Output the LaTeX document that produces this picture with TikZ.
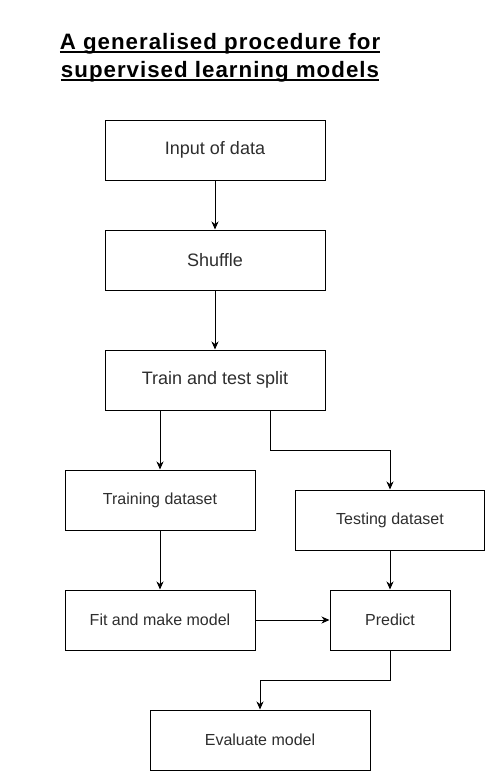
\documentclass[tikz,border=0pt]{standalone}
\usepackage{fontspec}
\setmainfont{Liberation Sans}
\newfontfamily\titlefont{Liberation Sans}[LetterSpace=4.5]
\usetikzlibrary{arrows.meta}
\newcommand\myul[1]{\setbox0\hbox{#1}\rlap{\rule[-4pt]{\wd0}{2pt}}\box0}
\begin{document}
\begin{tikzpicture}[x=1pt,y=-1pt,
  box/.style={draw=black,line width=1pt,rectangle,minimum height=60pt,inner sep=0pt,text=black!82},
  bigtxt/.style={font=\fontsize{18}{22}\selectfont},
  smalltxt/.style={font=\fontsize{16}{19}\selectfont},
  title/.style={font=\titlefont\bfseries\fontsize{22.3}{24}\selectfont,inner sep=0pt,anchor=base,text=black},
  arr/.style={draw=black,line width=1pt,-{Stealth[length=8pt,width=7pt,inset=2.5pt]}}]
\useasboundingbox (0,0) rectangle (486,771);
\fill[white] (0,0) rectangle (486,771);
\node[title] (t1) at (220,49) {\myul{A generalised procedure for}};
\node[title] (t2) at (220,77) {\myul{supervised learning models}};
\node[box,bigtxt,minimum width=220pt] (in) at (215,150) {Input of data};
\node[box,bigtxt,minimum width=220pt] (sh) at (215,260) {Shuffle};
\node[box,bigtxt,minimum width=220pt] (sp) at (215,380) {Train and test split};
\node[box,smalltxt,minimum width=190pt] (tr) at (160,500) {Training dataset};
\node[box,smalltxt,minimum width=189pt] (te) at (390,520) {Testing dataset};
\node[box,smalltxt,minimum width=190pt] (fit) at (160,620) {Fit and make model};
\node[box,smalltxt,minimum width=120pt] (pr) at (390,620) {Predict};
\node[box,smalltxt,minimum width=220pt] (ev) at (260,740) {Evaluate model};
\coordinate (k1) at (270,450);
\coordinate (k2) at (260,680);
\draw[arr] (in) -- (sh);
\draw[arr] (sh) -- (sp);
\draw[arr] (tr.north |- sp.south) -- (tr.north);
\draw[arr] (sp.south -| k1) -- (k1) -| (te.north);
\draw[arr] (tr) -- (fit);
\draw[arr] (te) -- (pr);
\draw[arr] (fit) -- (pr);
\draw[arr] (pr.south) |- (k2) -- (ev.north);
\end{tikzpicture}
\end{document}
